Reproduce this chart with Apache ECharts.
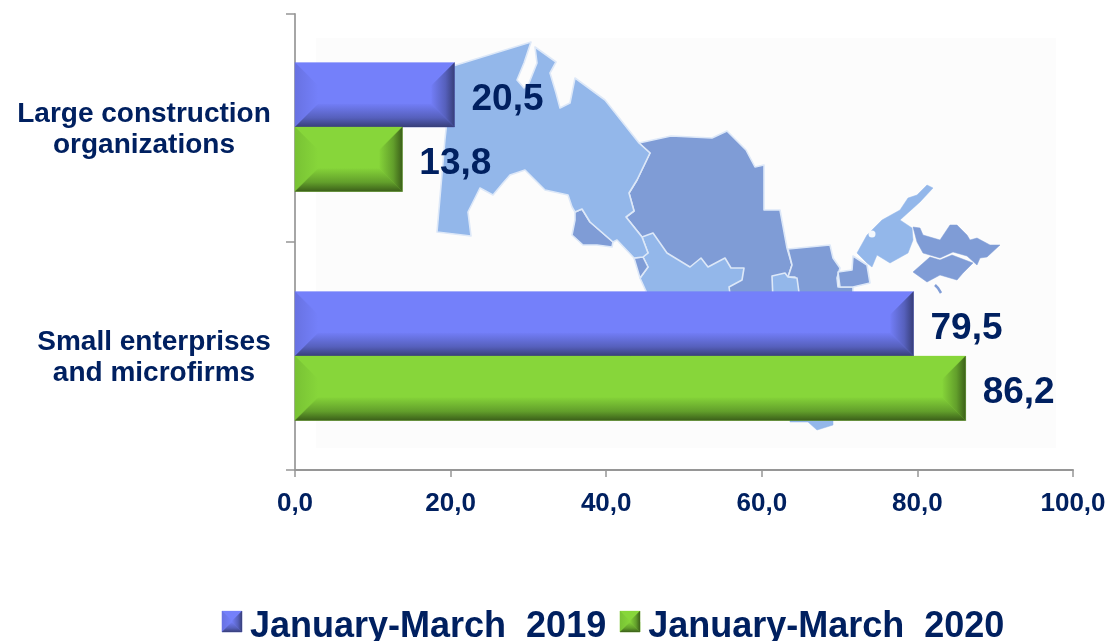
<!DOCTYPE html>
<html><head><meta charset="utf-8">
<style>html,body{margin:0;padding:0;background:#fff}#c{width:1113px;height:641px}</style>
<script src="https://cdn.jsdelivr.net/npm/echarts@6/dist/echarts.min.js"></script>
</head><body><div id="c"></div>
<script>
const categories = ['Large construction\norganizations', 'Small enterprises\nand microfirms'];
const seriesNames = ['January-March  2019', 'January-March  2020'];
const values2019 = [20.5, 79.5];
const values2020 = [13.8, 86.2];
const xTicks = {min: 0, max: 100, interval: 20};

const NAVY = '#002060';
const FONT = '"Liberation Sans", Arial, sans-serif';
const palettes = [
  {face:'#7480FA', left:'#6872E2', sideEnd:'#373E78', sideMid:'#5660BC', sideStart:'#727DF6'},
  {face:'#87D63A', left:'#78C234', sideEnd:'#3B5F19', sideMid:'#629F2B', sideStart:'#85D339'}
];

/* Decorative backdrop: outline of the country behind the bars (page pixels) */
const LIGHT = '#93B7EA', MID = '#7F9CD6', EDGE = '#DDE8F8';
const backdrop = [
  {fill: MID, pts: [[639,143],[671,136],[712,138],[727,131],[746,150],[755,167],[764,165],[764,210],[780,210],[787,248],[792,265],[788,277],[800,300],[660,300],[642,237],[626,217],[634,211],[629,193],[637,180],[650,153]]},
  {fill: MID, pts: [[788,249],[830,245],[833,258],[840,268],[837,278],[838,287],[853,287],[853,300],[800,300],[795,277],[788,277],[792,265]]},
  {fill: LIGHT, pts: [[642,237],[653,233],[667,253],[690,267],[701,258],[708,267],[725,258],[731,268],[744,268],[742,280],[729,287],[731,300],[650,300],[640,278],[648,267],[643,257],[648,253]]},
  {fill: LIGHT, pts: [[772,276],[785,273],[788,277],[797,278],[800,300],[773,300]]},
  {fill: MID, pts: [[634,258],[643,257],[648,267],[640,278]]},
  {fill: MID, pts: [[575,212],[582,209],[590,222],[613,242],[612,247],[597,245],[583,245],[572,235],[575,220]]},
  {fill: LIGHT, pts: [[437,232],[445,139],[453,66],[531,42],[524,63],[517,80],[524,88],[529,83],[537,63],[535,47],[556,62],[550,73],[556,93],[560,108],[570,103],[575,78],[605,100],[639,143],[650,153],[637,180],[629,193],[634,211],[626,217],[642,237],[648,253],[643,257],[634,258],[617,240],[613,242],[590,222],[582,209],[575,212],[572,207],[568,195],[545,190],[525,170],[510,175],[503,183],[493,195],[480,188],[468,212],[471,236]]},
  {fill: MID, pts: [[838,272],[852,270],[853,256],[867,265],[870,283],[853,287],[840,287]]},
  {fill: LIGHT, noEdge: true, pts: [[857,253],[867,235],[882,220],[900,210],[908,198],[917,195],[927,185],[933,188],[920,202],[900,220],[912,228],[913,240],[908,253],[890,263],[877,255],[872,267],[867,263]]},
  {fill: MID, noEdge: true, pts: [[913,227],[920,228],[923,235],[940,240],[950,225],[957,225],[967,235],[970,240],[977,238],[990,245],[1000,245],[987,257],[980,258],[977,265],[967,256],[953,252],[940,258],[923,253],[917,242]]},
  {fill: MID, noEdge: true, pts: [[913,272],[930,257],[940,260],[952,255],[973,263],[963,273],[957,280],[940,275],[927,282]]},
  {fill: LIGHT, noEdge: true, pts: [[790,418],[833,418],[833,425],[817,430],[808,422],[790,422]]}
];

function grad(x0,y0,x1,y1,p){
  return new echarts.graphic.LinearGradient(x0,y0,x1,y1,[
    {offset:0,color:p.sideEnd},{offset:0.4,color:p.sideMid},{offset:1,color:p.sideStart}]);
}
function lin2(x0,y0,x1,y1,a,b){
  return new echarts.graphic.LinearGradient(x0,y0,x1,y1,[{offset:0,color:a},{offset:1,color:b}]);
}

function bevel(x0,y0,x1,y1,b,p){
  const bx = Math.min(b,(x1-x0)/2), by = Math.min(b,(y1-y0)/2);
  const poly = (pts,fill)=>({type:'polygon',shape:{points:pts},style:{fill,stroke:fill,lineWidth:0.3}});
  return [
    poly([[x0,y0],[x1,y0],[x1,y1],[x0,y1]],p.face),
    poly([[x0,y0],[x0+bx,y0+by],[x0+bx,y1-by],[x0,y1]],lin2(0,0,1,0,p.left,p.face)),
    poly([[x1,y0],[x1,y1],[x1-bx,y1-by],[x1-bx,y0+by]],grad(1,0,0,0,p)),
    poly([[x0,y1],[x0+bx,y1-by],[x1-bx,y1-by],[x1,y1]],grad(0,1,0,0,p))
  ];
}

function makeSeries(name, values, idx){
  const p = palettes[idx];
  return {
    type:'custom', name, coordinateSystem:'cartesian2d', clip:false, z:3,
    itemStyle:{color:p.face},
    encode:{x:0,y:1},
    data: values.map((v,i)=>[v,i]),
    renderItem(params, api){
      const v = api.value(0), c = api.coord([v, api.value(1)]), o = api.coord([0, api.value(1)]);
      const h = api.size([0,1])[1]*0.2825;
      const y0 = (idx===0 ? c[1]-h : c[1]) - (api.value(1)===0 ? 1 : 0), y1 = y0+h;
      const kids = bevel(o[0],y0,c[0],y1,23,p);
      kids.push({type:'text',z2:5,style:{
        text:v.toFixed(1).replace('.',','),x:c[0]+17,y:(y0+y1)/2+5,
        fill:NAVY,font:'bold 37px '+FONT,align:'left',verticalAlign:'middle',
        textAlign:'left',textVerticalAlign:'middle'}});
      return {type:'group',children:kids};
    }
  };
}

const graphics = [{type:'rect',z:-10,silent:true,shape:{x:316,y:38,width:740,height:410},style:{fill:'#FCFCFC'}}];
backdrop.forEach(r=>graphics.push({type:'polygon',z:-9,silent:true,shape:{points:r.pts},
  style:{fill:r.fill,stroke:r.noEdge?r.fill:EDGE,lineWidth:r.noEdge?0.5:1.6,lineJoin:'round'}}));
graphics.push({type:'circle',z:-8,silent:true,shape:{cx:872,cy:234,r:3.5},style:{fill:'#F4F8FD'}});
graphics.push({type:'polyline',z:-8,silent:true,shape:{points:[[935,285],[938,288],[941,293]]},style:{stroke:MID,lineWidth:2.5,fill:null}});
/* bevelled legend swatches laid over the legend's own symbols */
[[222,611,palettes[0]],[620,611,palettes[1]]].forEach(([x,y,p])=>{
  bevel(x,y,x+20,y+21,10,p).forEach(g=>{g.z=20;g.silent=true;graphics.push(g);});
});

const chart = echarts.init(document.getElementById('c'),null,{renderer:'canvas',width:1113,height:641});
chart.setOption({
  animation:false,
  backgroundColor:'#fff',
  grid:{left:295,top:14,width:778,height:456,containLabel:false},
  xAxis:{type:'value',min:xTicks.min,max:xTicks.max,interval:xTicks.interval,
    axisLine:{show:true,lineStyle:{color:'#969696',width:2}},
    axisTick:{show:true,length:7,lineStyle:{color:'#969696',width:1.5}},
    splitLine:{show:false},
    axisLabel:{margin:21,color:NAVY,fontFamily:FONT,fontWeight:'bold',fontSize:26,
      formatter:v=>v.toFixed(1).replace('.',',')}},
  yAxis:{type:'category',inverse:true,data:categories,
    axisLine:{show:true,lineStyle:{color:'#A6A6A6',width:2}},
    axisTick:{show:true,length:9,lineStyle:{color:'#969696',width:1.5}},
    axisLabel:{margin:146,align:'center',lineHeight:31,padding:[4,0,0,0],
      formatter:(v,i)=>{const t=i===0?'a':'b';return v.split('\n').map(s=>'{'+t+'|'+s+'}').join('\n');},
      rich:{
        a:{color:NAVY,fontFamily:FONT,fontWeight:'bold',fontSize:28,lineHeight:31,padding:[0,10,0,0]},
        b:{color:NAVY,fontFamily:FONT,fontWeight:'bold',fontSize:28,lineHeight:31,padding:[0,0,0,10]}
      }}},
  legend:{left:217,top:604,itemWidth:20,itemHeight:10,itemGap:14,icon:'rect',
    data:seriesNames,
    textStyle:{color:NAVY,fontFamily:FONT,fontWeight:'bold',fontSize:36,padding:[0,0,0,3]}},
  graphic:graphics,
  series:[makeSeries(seriesNames[0],values2019,0),makeSeries(seriesNames[1],values2020,1)]
});
</script></body></html>
